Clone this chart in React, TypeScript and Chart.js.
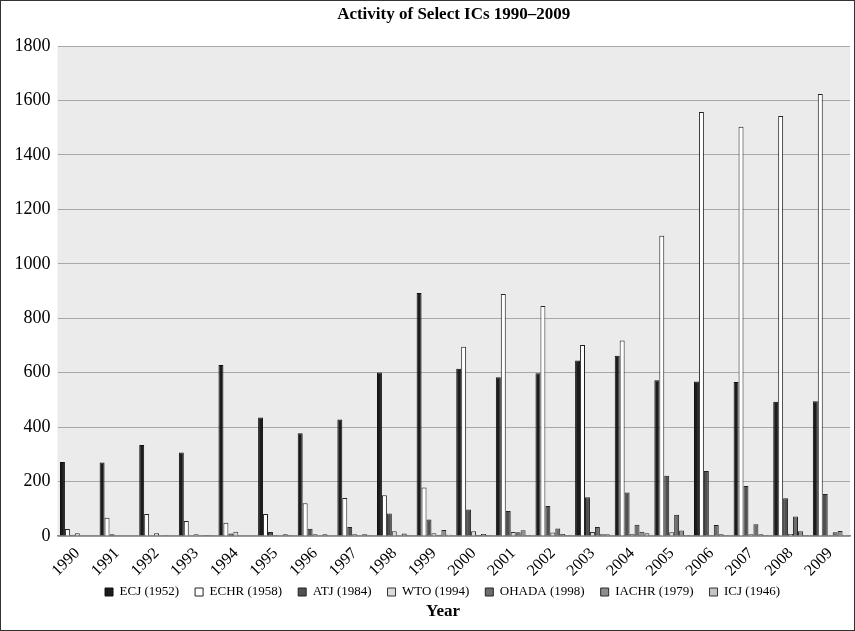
import React, { useEffect, useRef } from "react";
import { Chart, registerables } from "chart.js";

Chart.register(...registerables);

const years = ["1990","1991","1992","1993","1994","1995","1996","1997","1998","1999","2000","2001","2002","2003","2004","2005","2006","2007","2008","2009"];

const seriesNames = ["ECJ (1952)", "ECHR (1958)", "ATJ (1984)", "WTO (1994)", "OHADA (1998)", "IACHR (1979)", "ICJ (1946)"];

const ecj = [272, 270, 334, 307, 628, 435, 377, 428, 601, 893, 614, 583, 598, 645, 662, 572, 568, 566, 493, 495];
const echr = [26, 67, 81, 55, 49, 81, 120, 140, 150, 178, 695, 889, 845, 702, 718, 1103, 1558, 1503, 1543, 1624];
const atj = [5, 6, 2, 2, 9, 15, 27, 33, 83, 61, 97, 92, 110, 142, 160, 221, 239, 184, 139, 154];
const wto = [10, 2, 10, 6, 16, 1, 6, 6, 17, 10, 17, 15, 13, 15, 7, 14, 1, 6, 7, 2];
const ohada = [0, 0, 0, 0, 0, 0, 0, 0, 0, 4, 4, 14, 28, 33, 41, 78, 40, 43, 72, 14];
const iachr = [3, 2, 1, 4, 2, 6, 6, 6, 9, 22, 7, 21, 7, 6, 16, 20, 6, 6, 17, 18];
const icj = [3, 2, 3, 4, 3, 4, 2, 1, 4, 5, 4, 4, 4, 6, 10, 4, 4, 4, 4, 3];

const fills = ["#1c1c1c", "#ffffff", "#505050", "#dcdcdc", "#6c6c6c", "#8e8e8e", "#c4c4c4"];
const borders = ["#111111", "#222222", "#222222", "#333333", "#222222", "#2a2a2a", "#333333"];

const serif = "'Liberation Serif', 'Times New Roman', serif";

export default function App() {
  const ref = useRef<HTMLCanvasElement | null>(null);

  useEffect(() => {
    if (!ref.current) return;
    const values = [ecj, echr, atj, wto, ohada, iachr, icj];
    const framePlugin = {
      id: "framePlugin",
      afterLayout(chart: any) {
        const lg = chart.legend;
        if (lg) {
          lg.left = 30;
          lg.right = 855;
          lg.width = 825;
          lg.top = 569.5;
          lg.bottom = lg.top + lg.height;
        }
        const sub = chart.boxes.find((b: any) => b.options && b.options.text === "Year");
        if (sub) {
          sub.left = 30;
          sub.right = 856;
          sub.width = 826;
          sub.top = 611.5;
          sub.bottom = sub.top + sub.height;
        }
      },
      beforeDraw(chart: any) {
        const { ctx, chartArea } = chart;
        ctx.save();
        ctx.fillStyle = "#ffffff";
        ctx.fillRect(0, 0, chart.width, chart.height);
        ctx.fillStyle = "#ebebeb";
        ctx.fillRect(chartArea.left, chartArea.top, chartArea.right - chartArea.left, chartArea.bottom - chartArea.top);
        ctx.restore();
      },
      afterDraw(chart: any) {
        const { ctx } = chart;
        ctx.save();
        ctx.strokeStyle = "#333333";
        ctx.lineWidth = 1;
        ctx.strokeRect(0.5, 0.5, chart.width - 1, chart.height - 1);
        ctx.restore();
      },
    };

    const chart = new Chart(ref.current, {
      type: "bar",
      data: {
        labels: years,
        datasets: seriesNames.map((name, i) => ({
          label: name,
          data: values[i],
          backgroundColor: fills[i],
          borderColor: borders[i],
          borderWidth: 1,
          categoryPercentage: 0.875,
          barPercentage: 1,
        })),
      },
      options: {
        responsive: false,
        animation: false,
        devicePixelRatio: 1,
        layout: { padding: { left: 0, right: 5, top: 0, bottom: 0 } },
        plugins: {
          title: {
            display: true,
            text: "Activity of Select ICs 1990–2009",
            fullSize: false,
            color: "#000",
            font: { family: serif, size: 17, weight: "bold" },
            padding: { top: 4.3, bottom: 21.3 },
          },
          subtitle: {
            display: true,
            position: "bottom",
            text: "Year",
            fullSize: true,
            color: "#000",
            font: { family: serif, size: 17, weight: "bold" },
            padding: { top: -10.2, bottom: 0 },
          },
          legend: {
            position: "bottom",
            fullSize: true,
            labels: {
              boxWidth: 8,
              boxHeight: 8,
              padding: 16,
              color: "#000",
              font: { family: serif, size: 13 },
            },
          },
          tooltip: { enabled: false },
        },
        scales: {
          x: {
            grid: { display: false },
            border: { display: true, color: "#8a8a8a", width: 1.5 },
            ticks: {
              minRotation: 45,
              maxRotation: 45,
              autoSkip: false,
              padding: 0,
              color: "#000",
              font: { family: serif, size: 16 },
            },
            afterFit: (scale: any) => {
              scale.height = 45.8;
            },
          },
          y: {
            min: 0,
            max: 1800,
            grid: { color: "#a8a8a8", lineWidth: 1, drawTicks: false },
            border: { display: false },
            ticks: {
              stepSize: 200,
              padding: 7,
              color: "#000",
              font: { family: serif, size: 18 },
              callback: (v: any) => String(v),
            },
            afterFit: (scale: any) => {
              scale.width = 57.5;
            },
          },
        },
      },
      plugins: [framePlugin],
    } as any);
    return () => chart.destroy();
  }, []);

  return (
    <div style={{ position: "absolute", left: 0, top: 0, width: 855, height: 631 }}>
      <canvas ref={ref} width={855} height={631} style={{ display: "block" }} />
    </div>
  );
}
